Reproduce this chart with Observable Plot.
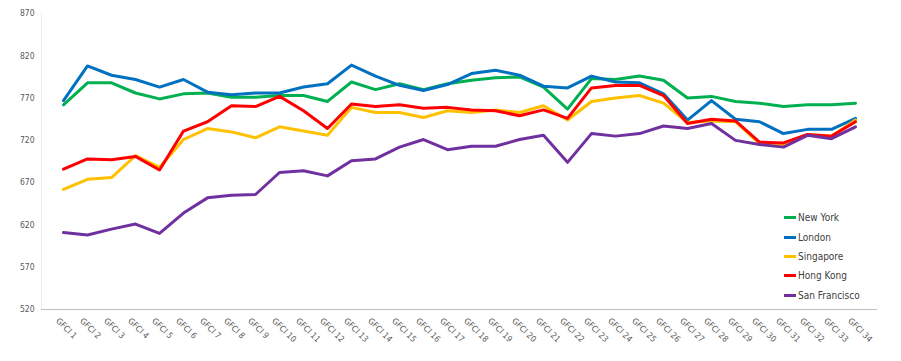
<!DOCTYPE html>
<html>
<head>
<meta charset="utf-8">
<script src="https://cdn.jsdelivr.net/npm/d3@7"></script>
<script src="https://cdn.jsdelivr.net/npm/@observablehq/plot@0.6"></script>
<style>
  body { margin: 0; background: #fff; }
  #wrap { position: relative; width: 901px; height: 361px; font-family: "Liberation Sans Narrow", "DejaVu Sans Condensed", "Liberation Sans", sans-serif; }
  #legend { position: absolute; left: 784px; top: 208px; font-size: 10px; color: #404040; }
  #legend .item { display: flex; align-items: center; height: 19.4px; }
  #legend .sw { width: 12px; height: 3px; margin-right: 2px; }
</style>
</head>
<body>
<div id="wrap"></div>
<script>
const periods = ["GFCI 1","GFCI 2","GFCI 3","GFCI 4","GFCI 5","GFCI 6","GFCI 7","GFCI 8","GFCI 9","GFCI 10","GFCI 11","GFCI 12","GFCI 13","GFCI 14","GFCI 15","GFCI 16","GFCI 17","GFCI 18","GFCI 19","GFCI 20","GFCI 21","GFCI 22","GFCI 23","GFCI 24","GFCI 25","GFCI 26","GFCI 27","GFCI 28","GFCI 29","GFCI 30","GFCI 31","GFCI 32","GFCI 33","GFCI 34"];
const cities = ["New York", "London", "Singapore", "Hong Kong", "San Francisco"];
const colors = ["#00B050", "#0070C0", "#FFC000", "#FF0000", "#7030A0"];
const newYork = [762, 788, 788, 776, 769, 775, 776, 771, 771, 773, 773, 766, 789, 780, 787, 780, 787, 791, 794, 795, 783, 757, 793, 792, 796, 791, 770, 772, 766, 764, 760, 762, 762, 764];
const london = [767, 808, 797, 792, 783, 792, 777, 774, 776, 776, 783, 787, 809, 796, 785, 779, 786, 799, 803, 797, 784, 782, 796, 789, 788, 775, 744, 767, 745, 742, 728, 733, 733, 746];
const singapore = [662, 674, 676, 702, 688, 721, 734, 730, 723, 736, 731, 726, 759, 753, 753, 747, 755, 753, 756, 753, 761, 744, 766, 770, 773, 764, 741, 743, 742, 716, 715, 727, 725, 744];
const hongKong = [686, 698, 697, 701, 685, 731, 742, 761, 760, 772, 755, 734, 763, 760, 762, 758, 759, 756, 755, 749, 756, 746, 782, 785, 785, 773, 740, 745, 743, 718, 717, 727, 725, 742];
const sanFrancisco = [611, 608, 615, 621, 610, 634, 652, 655, 656, 682, 684, 678, 696, 698, 712, 721, 709, 713, 713, 721, 726, 694, 728, 725, 728, 737, 734, 740, 720, 715, 712, 726, 722, 736];
const yTicks = [520, 570, 620, 670, 720, 770, 820, 870];

const seriesValues = [newYork, london, singapore, hongKong, sanFrancisco];
const rows = [];
cities.forEach((c, ci) => seriesValues[ci].forEach((v, i) => rows.push({city: c, period: periods[i], value: v})));

const chart = Plot.plot({
  width: 901,
  height: 361,
  marginLeft: 41,
  marginRight: 24,
  marginTop: 13,
  marginBottom: 52,
  style: { fontFamily: "Liberation Sans Narrow, DejaVu Sans Condensed, Liberation Sans, sans-serif", fontSize: "8.5px", color: "#595959", background: "#fff" },
  x: { type: "point", domain: periods, padding: 0.5, label: null },
  y: { domain: [520, 870], label: null },
  color: { domain: cities, range: colors },
  marks: [
    Plot.frame({ anchor: "left", stroke: "#ececec" }),
    Plot.axisY({ ticks: yTicks, tickSize: 0, tickPadding: 7, fill: "#595959", fontSize: 8.5, label: null }),
    Plot.axisX({ tickSize: 0, tickPadding: 10, dx: -6, tickRotate: 45, fill: "#595959", fontSize: 8.5, label: null }),
    Plot.ruleY([520], { stroke: "#bfbfbf", strokeWidth: 1 }),
    Plot.lineY(rows, { x: "period", y: "value", z: "city", stroke: "city", strokeWidth: 3, strokeLinejoin: "round" })
  ]
});
const wrap = document.getElementById("wrap");
wrap.appendChild(chart);

const legend = document.createElement("div");
legend.id = "legend";
cities.forEach((c, i) => {
  const item = document.createElement("div");
  item.className = "item";
  const sw = document.createElement("span");
  sw.className = "sw";
  sw.style.background = colors[i];
  const t = document.createElement("span");
  t.textContent = c;
  item.appendChild(sw);
  item.appendChild(t);
  legend.appendChild(item);
});
wrap.appendChild(legend);
</script>
</body>
</html>
